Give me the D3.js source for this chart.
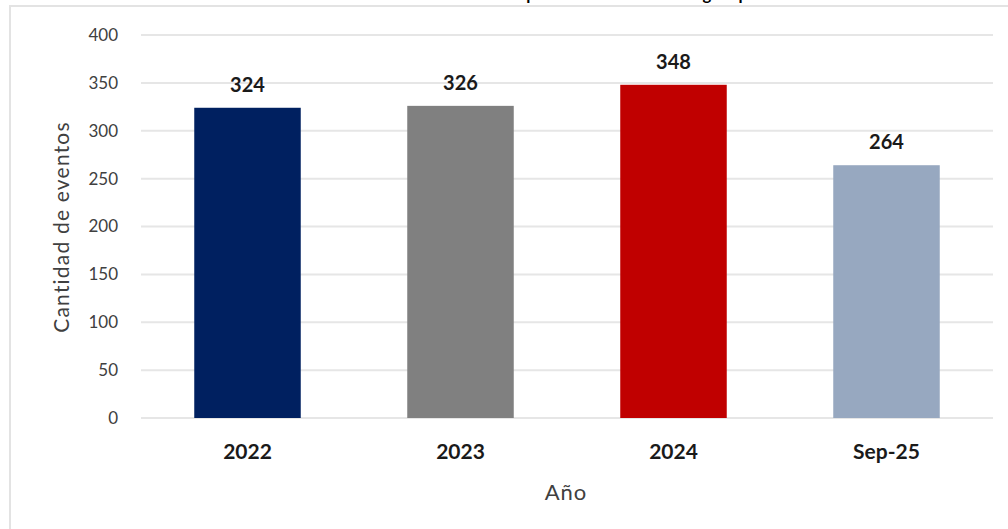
<!DOCTYPE html>
<html><head><meta charset="utf-8">
<script src="https://cdn.jsdelivr.net/npm/d3@7"></script>
<style>
html,body{margin:0;padding:0;background:#fff;}
svg{display:block;font-family:Lato,"Open Sans",sans-serif;}
</style></head>
<body>
<svg id="chart" width="1008" height="529"></svg>
<script>
const categories = ["2022", "2023", "2024", "Sep-25"];
const values = [324, 326, 348, 264];
const colors = ["#002060", "#808080", "#C00000", "#97A8C0"];
const yTicks = [0, 50, 100, 150, 200, 250, 300, 350, 400];
const titleText = "Eventos reportados a nivel de la región por año";
const yTitle = "Cantidad de eventos";
const xTitle = "Año";

const svg = d3.select("#chart");
const plot = {left: 141, right: 993, top: 35, bottom: 418};

// chart area border
svg.append("rect").attr("x", 10).attr("y", 6).attr("width", 1010).attr("height", 540)
  .attr("fill", "#fff").attr("stroke", "#e3e3e3").attr("stroke-width", 2);

// title, cut off at the top edge (only descenders visible, as in the reference)
const title = svg.append("text").attr("x", 0).attr("y", 0)
  .attr("font-size", 22).attr("font-weight", "bold").attr("fill", "#000").text(titleText);
{
  const node = title.node();
  const iP = titleText.indexOf("p");
  const iG = titleText.indexOf("g");
  const cx = i => node.getSubStringLength(0, i) + node.getSubStringLength(i, 1) / 2;
  const d = cx(iG) - cx(iP);
  const fs = 22 * 176 / d;
  title.attr("font-size", fs);
  title.attr("x", 531 - cx(iP)).attr("y", 3 - 0.19 * fs);
}

const x = d3.scaleBand().domain(categories).range([plot.left, plot.right])
  .paddingInner(0.5).paddingOuter(0.25);
const y = d3.scaleLinear().domain([0, 400]).range([plot.bottom, plot.top]);

// gridlines
svg.append("g").selectAll("line").data(yTicks).join("line")
  .attr("x1", plot.left).attr("x2", plot.right)
  .attr("y1", d => y(d)).attr("y2", d => y(d))
  .attr("stroke", "#e6e6e6").attr("stroke-width", 2);

// y axis labels
const yAxis = d3.axisLeft(y).tickValues(yTicks).tickSize(0).tickPadding(0);
const gy = svg.append("g").attr("transform", `translate(${plot.left - 23},0)`).call(yAxis);
gy.select(".domain").remove();
gy.selectAll("text").attr("font-size", 17).attr("fill", "#404040")
  .attr("font-family", "Lato, sans-serif");

// bars
svg.append("g").selectAll("rect").data(values).join("rect")
  .attr("x", (d, i) => x(categories[i]))
  .attr("width", x.bandwidth())
  .attr("y", d => y(d))
  .attr("height", d => y(0) - y(d))
  .attr("fill", (d, i) => colors[i]);

// value labels
svg.append("g").selectAll("text").data(values).join("text")
  .attr("x", (d, i) => x(categories[i]) + x.bandwidth() / 2)
  .attr("y", d => y(d) - 16)
  .attr("text-anchor", "middle").attr("font-size", 20).attr("font-weight", "bold")
  .attr("fill", "#1a1a1a").text(d => d);

// x axis labels
const xAxis = d3.axisBottom(x).tickSize(0).tickPadding(0);
const gx = svg.append("g").attr("transform", `translate(0,${plot.bottom + 26})`).call(xAxis);
gx.select(".domain").remove();
gx.selectAll("text").attr("font-size", 21).attr("font-weight", "bold")
  .attr("fill", "#1a1a1a").attr("font-family", "Lato, sans-serif");

// axis titles
svg.append("text").attr("transform", `translate(69,227) rotate(-90)`)
  .attr("text-anchor", "middle").attr("font-size", 21).attr("letter-spacing", 1.2)
  .attr("fill", "#404040").text(yTitle);
svg.append("text").attr("x", 566).attr("y", 500).attr("text-anchor", "middle")
  .attr("font-size", 22).attr("letter-spacing", 1).attr("fill", "#404040").text(xTitle);
</script>
</body></html>
